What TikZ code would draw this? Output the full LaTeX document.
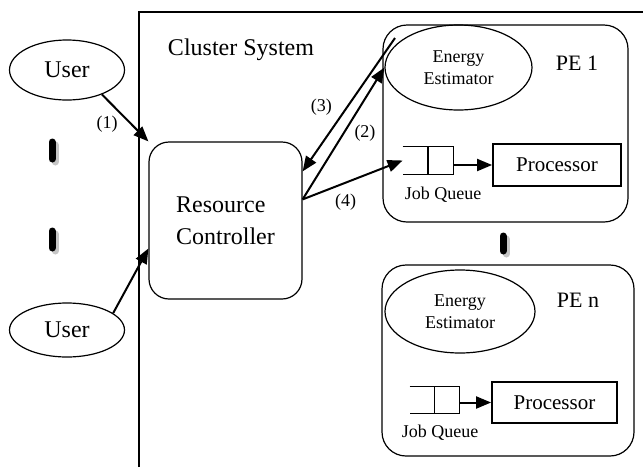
\documentclass[tikz,border=0pt]{standalone}
\usepackage{fontspec}
\setmainfont{Liberation Serif}
\usetikzlibrary{positioning,arrows.meta,calc,shapes.geometric}

\begin{document}
\begin{tikzpicture}[x=0.5pt, y=-0.5pt, >={Triangle[length=7.5pt,width=6pt]},
    every node/.style={font=\fontsize{12}{14}\selectfont},
    user/.style={draw, ellipse, line width=0.6pt, minimum width=57.5pt, inner sep=0pt},
    box/.style={draw, line width=0.6pt, inner sep=0pt},
    est/.style={draw, ellipse, line width=0.6pt, inner sep=0pt, align=center,
      font=\fontsize{9}{11}\selectfont},
    cpu/.style={draw, line width=0.9pt, inner sep=0pt, font=\fontsize{10.5}{12}\selectfont},
    small/.style={font=\fontsize{9}{10}\selectfont, inner sep=1pt},
    msg/.style={->, line width=1pt},
    dotmark/.style={line width=3.5pt, line cap=round}]
    \useasboundingbox (0,0) rectangle (643,467);

    % Cluster frame
    \draw[line width=0.8pt] (139,467) -- (139,12) -- (643,12);
    \node (cs) at (241,50) {Cluster System};

    % Users and controller
    \node[user, minimum height=30pt] (u1) at (67,70) {User};
    \node[user, minimum height=27pt] (u2) at (67,330) {User};
    \node[box, rounded corners=10pt, minimum width=76.5pt, minimum height=78.5pt,
      align=left, font=\fontsize{12}{16}\selectfont] (rc) at (225.5,220.5) {Resource\\Controller};

    % PE 1
    \node[box, rounded corners=12pt, minimum width=122.5pt, minimum height=98.5pt] (pe1) at (505.5,123.5) {};
    \node[est, minimum width=73.5pt, minimum height=42.5pt] (ee1) at (458.5,67.5) {Energy\\Estimator};
    \node[font=\fontsize{11}{12}\selectfont] (pe1t) at (577,63) {PE 1};
    \node[minimum width=25pt, minimum height=13.5pt, inner sep=0pt] (q1) at (428,160.5) {};
    \node[cpu, minimum width=64pt, minimum height=21pt] (p1) at (557,165) {Processor};
    \node[small] (jq1) at (443,195) {Job Queue};

    % PE n
    \node[box, rounded corners=12pt, minimum width=126pt, minimum height=95.5pt] (pe2) at (508,360.5) {};
    \node[est, minimum width=75pt, minimum height=41.5pt] (ee2) at (460,311.5) {Energy\\Estimator};
    \node[font=\fontsize{11}{12}\selectfont] (pe2t) at (578,300) {PE n};
    \node[minimum width=24.5pt, minimum height=13pt, inner sep=0pt] (q2) at (434.5,400) {};
    \node[cpu, minimum width=62.5pt, minimum height=20.5pt] (p2) at (554.5,402.5) {Processor};
    \node[small] (jq2) at (440,433) {Job Queue};

    \foreach \q in {q1,q2}
      \draw[line width=0.6pt] (\q.north west) -- (\q.north east) -- (\q.south east) -- (\q.south west)
        (\q.north) -- (\q.south);
    \draw[msg] (q1.east |- p1.west) -- (p1.west);
    \draw[msg] (q2.east |- p2.west) -- (p2.west);

    % Continuation marks
    \foreach \x/\ya/\yb in {52/142/159, 52/231/248, 503/236/251} {
      \draw[dotmark, gray!45] (\x+3,\ya+3) -- (\x+3,\yb+3);
      \draw[dotmark] (\x,\ya) -- (\x,\yb);
    }

    % Messages
    \coordinate (c3) at (395,38);
    \draw[msg] (u1.-35) -- node[small, pos=0.4, below left] {(1)} (rc.north west);
    \draw[msg] (u2.20) -- ($(rc.west)+(0,28)$);
    \draw[msg] (c3) -- node[small, pos=0.52, left=6pt] {(3)} ($(rc.north east)+(0,30)$);
    \draw[msg] ($(rc.north east)+(0,58)$) -- node[small, pos=0.5, right=4pt] {(2)} (ee1.west);
    \draw[msg] ($(rc.north east)+(0,58)$) -- node[small, pos=0.43, below=4pt] {(4)} (q1.west);
  \end{tikzpicture}
\end{document}
